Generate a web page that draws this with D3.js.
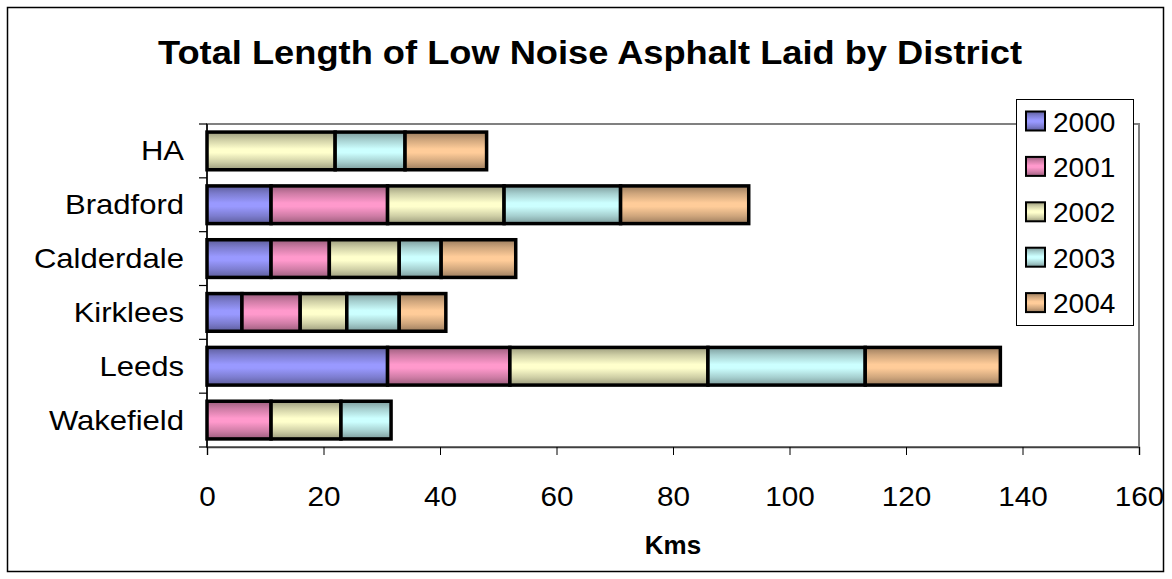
<!DOCTYPE html>
<html><head><meta charset="utf-8">
<script src="https://cdn.jsdelivr.net/npm/d3@7"></script>
<style>body{margin:0;background:#fff}svg{display:block;font-family:"Liberation Sans",Arial,sans-serif}</style>
</head><body><svg id="c" width="1172" height="579"></svg>
<script>
const categories = ["HA","Bradford","Calderdale","Kirklees","Leeds","Wakefield"];
const seriesNames = ["2000","2001","2002","2003","2004"];
const s2000 = [0, 11, 11, 6, 31, 0];
const s2001 = [0, 20, 10, 10, 21, 11];
const s2002 = [22, 20, 12, 8, 34, 12];
const s2003 = [12, 20, 7.2, 9, 27, 8.6];
const s2004 = [14, 22, 12.8, 8, 23.2, 0];
const xTicks = [0,20,40,60,80,100,120,140,160];
const colors = ["#9999FF","#FF99CC","#FFFFCC","#CCFFFF","#FFCC99"];

const series = [s2000,s2001,s2002,s2003,s2004];
const table = categories.map((c,i)=>{const o={cat:c};seriesNames.forEach((s,j)=>o[s]=series[j][i]);return o;});
const stacked = d3.stack().keys(seriesNames)(table);

const svg = d3.select("#c");
const defs = svg.append("defs");
colors.forEach((col,i)=>{
  const dark = d3.color(col).darker(1.4).formatHex();
  const mid = d3.color(col).darker(0.6).formatHex();
  const g = defs.append("linearGradient").attr("id","g"+i).attr("x1",0).attr("y1",0).attr("x2",0).attr("y2",1);
  [[0,dark],[0.2,mid],[0.45,col],[0.55,col],[0.8,mid],[1,dark]].forEach(([o,c])=>g.append("stop").attr("offset",o).attr("stop-color",c));
});

// outer border
svg.append("rect").attr("x",7.5).attr("y",7.5).attr("width",1156).attr("height",564).attr("fill","#fff").attr("stroke","#000").attr("stroke-width",1.5);

const x = d3.scaleLinear().domain([0,160]).range([207,1139]);
const y = d3.scaleBand().domain(categories).range([124,447]).paddingInner(0.3).paddingOuter(0.15);

// plot area border (gray)
svg.append("rect").attr("x",x(0)).attr("y",124).attr("width",x(160)-x(0)).attr("height",447-124)
  .attr("fill","none").attr("stroke","#808080").attr("stroke-width",2);

// title
svg.append("text").attr("x",590).attr("y",64).attr("text-anchor","middle")
  .attr("font-weight","bold").attr("font-size",34).attr("textLength",864).attr("lengthAdjust","spacingAndGlyphs")
  .text("Total Length of Low Noise Asphalt Laid by District");

// bars
stacked.forEach((layer,i)=>{
  svg.append("g").selectAll("rect").data(layer.filter(d=>d[1]-d[0]>0)).join("rect")
    .attr("x",d=>x(d[0])).attr("y",d=>y(d.data.cat))
    .attr("width",d=>x(d[1])-x(d[0])).attr("height",y.bandwidth())
    .attr("fill",`url(#g${i})`).attr("stroke","#000").attr("stroke-width",3.5);
});

// x axis
const xAxis = svg.append("g").attr("transform","translate(0,447)")
  .call(d3.axisBottom(x).tickValues(xTicks).tickSize(8).tickPadding(32).tickFormat(d3.format("d")));
xAxis.select(".domain").attr("stroke","#404040").attr("stroke-width",1.5);
xAxis.selectAll(".tick line").attr("stroke","#000");
xAxis.selectAll("text").attr("font-size",27).attr("font-family","Liberation Sans, Arial, sans-serif").attr("fill","#000")
  .attr("transform","scale(1.1,1)");

// y axis line and boundary ticks
svg.append("line").attr("x1",x(0)).attr("x2",x(0)).attr("y1",124).attr("y2",447).attr("stroke","#000").attr("stroke-width",1.5);
const half = y.step()*y.paddingInner()/2;
const bounds = categories.map(c=>y(c)-half).concat([y(categories[categories.length-1])+y.bandwidth()+half]);
svg.append("g").selectAll("line").data(bounds).join("line")
  .attr("x1",x(0)-8).attr("x2",x(0)).attr("y1",d=>d).attr("y2",d=>d).attr("stroke","#000").attr("stroke-width",1.2);
svg.append("g").selectAll("text").data(categories).join("text")
  .attr("transform",d=>`translate(184,${y(d)+y.bandwidth()/2+9.5}) scale(1.15,1)`)
  .attr("text-anchor","end").attr("font-size",27).text(d=>d);

// x label
svg.append("text").attr("x",673).attr("y",554).attr("text-anchor","middle").attr("font-weight","bold").attr("font-size",26).text("Kms");

// legend
const lg = svg.append("g");
lg.append("rect").attr("x",1016.5).attr("y",99.5).attr("width",117).attr("height",226).attr("fill","#fff").attr("stroke","#000").attr("stroke-width",1);
const items = lg.selectAll("g").data(seriesNames).join("g").attr("transform",(d,i)=>`translate(1026,${121+i*45.4})`);
items.append("rect").attr("x",0).attr("y",-9.5).attr("width",19).attr("height",19).attr("fill",(d,i)=>`url(#g${i})`).attr("stroke","#000").attr("stroke-width",2);
items.append("text").attr("x",27).attr("y",10.5).attr("font-size",28).text(d=>d);
</script></body></html>
